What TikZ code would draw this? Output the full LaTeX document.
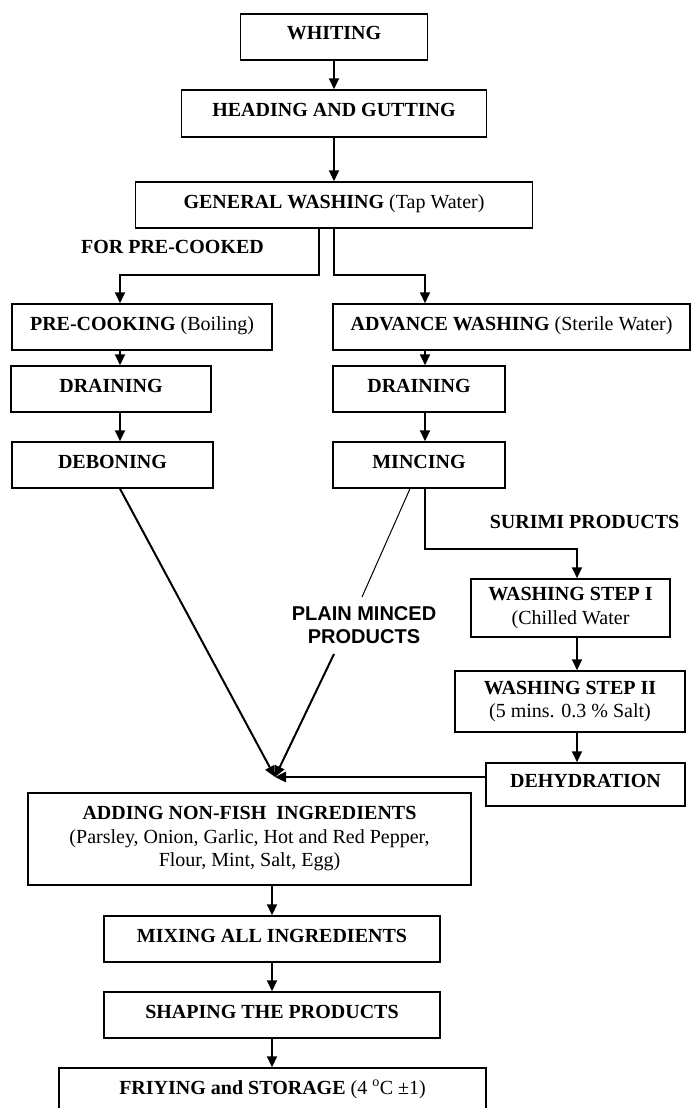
\documentclass[tikz,border=0pt]{standalone}
\usepackage{fontspec}
\setmainfont{Liberation Serif}
\newfontfamily\sanf{Liberation Sans}
\usetikzlibrary{arrows.meta}
\newcommand\fsz{\fontsize{20}{23.5}\selectfont}
\begin{document}
\begin{tikzpicture}[x=1pt,y=-1pt,
  box/.style={draw, line width=1.5pt, inner sep=0pt, text height=13pt, text depth=7pt, font=\fsz, minimum height=46pt},
  mbox/.style={draw, line width=1.5pt, inner sep=0pt, font=\fsz, align=center},
  lbl/.style={font=\fsz\bfseries, inner sep=0pt},
  arr/.style={line width=2pt, -{Triangle[length=11pt,width=10pt]}},
  thinln/.style={line width=1pt}
]
\clip (0,0) rectangle (691,1108);
\fill[white] (0,0) rectangle (691,1108);

\node[box, minimum width=187pt] (whiting) at (334,37) {\bfseries WHITING};
\node[box, minimum width=305pt, minimum height=47pt] (heading) at (334,113.5) {\bfseries HEADING AND GUTTING};
\node[box, minimum width=397pt] (general) at (334,205) {\textbf{GENERAL WASHING} (Tap Water)};
\node[box, minimum width=260pt] (precook) at (142,327) {\textbf{PRE-COOKING} (Boiling)};
\node[box, minimum width=357pt] (advance) at (511.5,327) {\textbf{ADVANCE WASHING} (Sterile Water)};
\node[box, minimum width=200pt] (drainL) at (111,389) {\bfseries DRAINING};
\node[box, minimum width=172pt] (drainR) at (419,389) {\bfseries DRAINING};
\node[box, minimum width=201pt] (debone) at (112.5,465) {\bfseries DEBONING};
\node[box, minimum width=172pt] (mince) at (419,465) {\bfseries MINCING};
\node[mbox, minimum width=199pt, minimum height=58pt] (wash1) at (570.5,608) {\textbf{WASHING STEP I}\\(Chilled Water};
\node[mbox, minimum width=230pt, minimum height=61pt] (wash2) at (570,701.5) {\textbf{WASHING STEP II}\\(5 mins. 0.3 \% Salt)};
\node[box, minimum width=199pt, minimum height=43pt] (dehyd) at (585.5,784.5) {\bfseries DEHYDRATION};
\node[mbox, minimum width=443pt, minimum height=92pt] (adding) at (249.5,839) {\textbf{ADDING NON-FISH~ INGREDIENTS}\\(Parsley, Onion, Garlic, Hot and Red Pepper,\\Flour, Mint, Salt, Egg)};
\node[box, minimum width=336pt] (mixing) at (272,939) {\bfseries MIXING ALL INGREDIENTS};
\node[box, minimum width=336pt] (shaping) at (272,1015) {\bfseries SHAPING THE PRODUCTS};
\node[box, minimum width=427pt] (frying) at (272.5,1091) {\textbf{FRIYING and STORAGE} (4 \textsuperscript{o}C ±1)};

\node[lbl] (forpre) at (172.5,247) {FOR PRE-COOKED};
\node[lbl] (surimi) at (584.5,522) {SURIMI PRODUCTS};
\node[lbl, font=\fsz\sanf\bfseries, align=center] (plain) at (364,625) {PLAIN MINCED\\PRODUCTS};

\coordinate (xL) at (120,0);
\coordinate (xR) at (425,0);
\coordinate (xS) at (577,0);
\coordinate (xM) at (410,0);
\coordinate (m) at (275,777);
\coordinate (pm1) at (362,597);
\coordinate (pm2) at (334,654);

\draw[arr] (whiting) -- (heading);
\draw[arr] (heading) -- (general);
\draw[arr] ([xshift=-15.5pt]general.south) -- ++(0,46) -| (precook.north -| xL);
\draw[arr] (general.south) -- ++(0,46) -| (advance.north -| xR);
\draw[arr] (precook.south -| xL) -- (drainL.north -| xL);
\draw[arr] (drainL.south -| xL) -- (debone.north -| xL);
\draw[arr] (advance.south -| xR) -- (drainR.north -| xR);
\draw[arr] (drainR.south -| xR) -- (mince.north -| xR);
\draw[arr] (debone.south -| xL) -- (m);
\draw[thinln] (mince.south -| xM) -- (pm1);
\draw[arr] (pm2) -- (m);
\draw[arr] (mince.south -| xR) -- ++(0,60) -| (wash1.north -| xS);
\draw[arr] (wash1.south -| xS) -- (wash2.north -| xS);
\draw[arr] (wash2.south -| xS) -- (dehyd.north -| xS);
\draw[arr, line width=2.5pt] (dehyd.west |- m) -- (m);
\draw[arr] (adding.south -| mixing) -- (mixing.north);
\draw[arr] (mixing) -- (shaping);
\draw[arr] (shaping) -- (frying.north -| shaping);
\end{tikzpicture}
\end{document}
